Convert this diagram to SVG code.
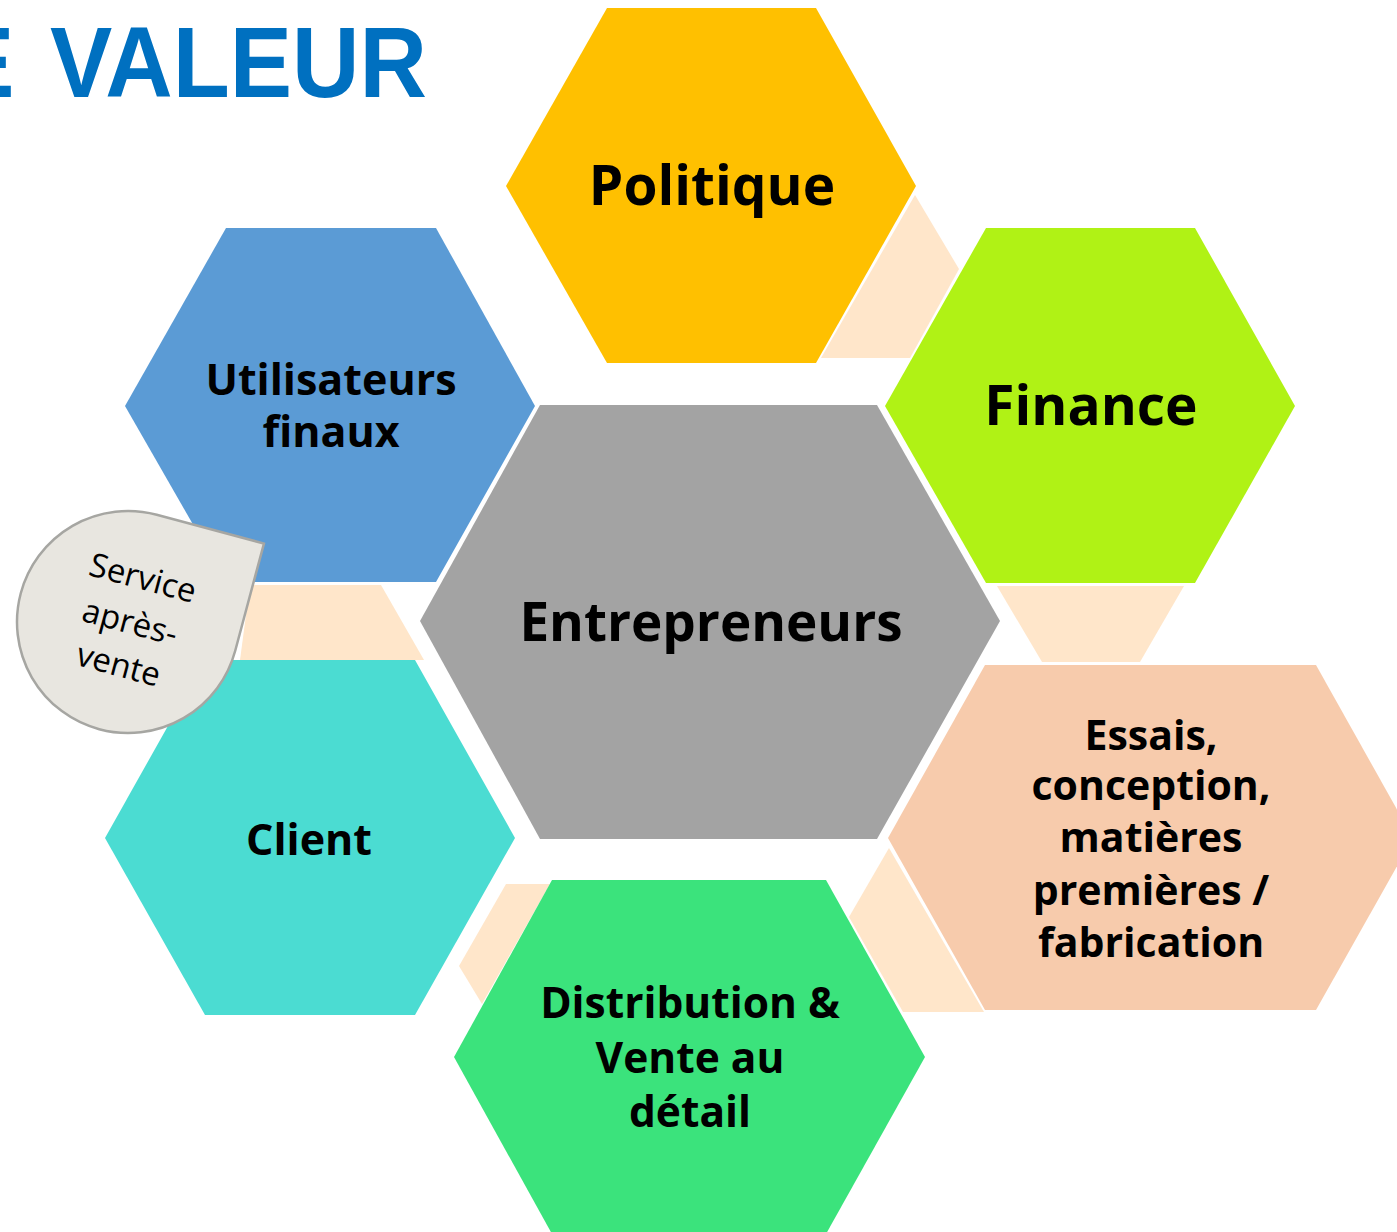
<svg xmlns="http://www.w3.org/2000/svg" width="1397" height="1232" viewBox="0 0 1397 1232">
<style>
.lbl{font-family:"Open Sans","Noto Sans","Liberation Sans",sans-serif;font-weight:700;fill:#000;text-anchor:middle}
.big{font-size:55px}
.mid{font-size:43px}
.sm{font-size:41px}
.conn{fill:#FFE6CA}
.call{font-family:"Open Sans","Noto Sans","Liberation Sans",sans-serif;font-size:33px;fill:#000;text-anchor:middle}
</style>
<rect width="1397" height="1232" fill="#fff"/>
<text y="97" font-family="'Liberation Sans',Arial,sans-serif" font-weight="700" font-size="100" fill="#0070C0"><tspan x="-52">E </tspan><tspan x="50" textLength="377" lengthAdjust="spacingAndGlyphs">VALEUR</tspan></text>
<g id="connectors">
<polygon class="conn" points="915,195 959,269 910,358 821,358"/>
<polygon class="conn" points="997,586 1184,586 1140,662 1042,662"/>
<polygon class="conn" points="889,848 849,917 903,1012 984,1012"/>
<polygon class="conn" points="506,884 550,884 482,1004 459,966"/>
<polygon class="conn" points="250,585 381,585 424,660 240,660"/>
</g>
<g id="politique">
<polygon points="506,186 607,8 816,8 916,186 816,363 607,363" fill="#FFC000"/>
<text class="lbl big" x="712" y="205">Politique</text>
</g>
<g id="utilisateurs">
<polygon points="125,406 226,228 436,228 535,406 436,582 226,582" fill="#5B9BD5"/>
<text class="lbl mid" x="331" y="395">Utilisateurs</text>
<text class="lbl mid" x="331" y="447">finaux</text>
</g>
<g id="finance">
<polygon points="885,406 986,228 1195,228 1295,406 1195,583 986,583" fill="#B0F215"/>
<text class="lbl big" x="1091" y="425">Finance</text>
</g>
<g id="entrepreneurs">
<polygon points="420,621 540,405 877,405 1000,621 877,839 540,839" fill="#A3A3A3"/>
<text class="lbl" x="711" y="641" font-size="53">Entrepreneurs</text>
</g>
<g id="client">
<polygon points="105,838 205,660 415,660 515,838 415,1015 205,1015" fill="#4BDCD2"/>
<text class="lbl mid" x="309" y="855">Client</text>
</g>
<g id="essais">
<polygon points="888,838 985,665 1316,665 1413,838 1316,1010 985,1010" fill="#F7CBAC"/>
<text class="lbl sm" x="1151" y="750">Essais,</text>
<text class="lbl sm" x="1151" y="800">conception,</text>
<text class="lbl sm" x="1151" y="852">matières</text>
<text class="lbl sm" x="1151" y="905">premières /</text>
<text class="lbl sm" x="1151" y="957">fabrication</text>
</g>
<g id="distribution">
<polygon points="454,1057 552,880 826,880 925,1057 826,1234 552,1234" fill="#3BE37C"/>
<text class="lbl" font-size="42.5" x="690" y="1018">Distribution &amp;</text>
<text class="lbl" font-size="42.5" x="690" y="1073">Vente au</text>
<text class="lbl" font-size="42.5" x="690" y="1127">détail</text>
</g>
<g id="service" transform="translate(128,622) rotate(15)">
<path d="M0,-111 L111,-111 L111,0 A111,111 0 1 1 0,-111 Z" fill="#E8E6E0" stroke="#A6A6A2" stroke-width="2.5"/>
<text class="call" x="3" y="-35">Service</text>
<text class="call" x="2" y="11">après-</text>
<text class="call" x="2" y="55">vente</text>
</g>
</svg>
